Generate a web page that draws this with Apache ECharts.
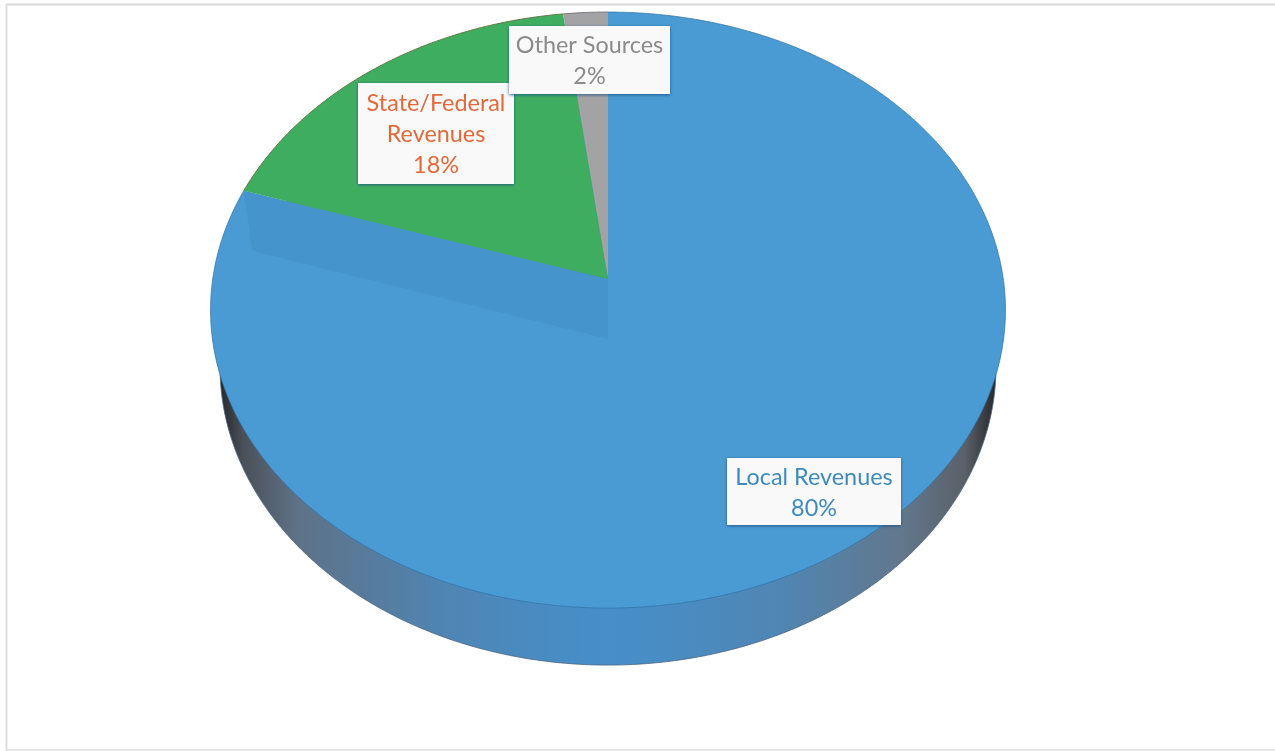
<!DOCTYPE html>
<html>
<head>
<meta charset="utf-8">
<style>html,body{margin:0;padding:0;background:#fff}#chart{width:1275px;height:751px}</style>
<script src="https://cdn.jsdelivr.net/npm/echarts@6/dist/echarts.min.js"></script>
</head>
<body>
<div id="chart"></div>
<script>
// Revenue sources, clockwise from twelve o'clock
const categories = ['Local Revenues', 'State/Federal\nRevenues', 'Other Sources'];
const shares = [80, 18, 2];
const sliceColors = ['#4a9ad3', '#3fad5f', '#a3a3a5'];
const rimColors = ['rgba(50,115,165,0.7)', '#5f7a45', '#7d7d7d'];
const labelColors = ['#3f8abd', '#e06a3c', '#8b8b8b'];
const labelBoxes = [[727, 458, 174, 67], [358, 83, 156, 101], [509, 26, 161, 68]];

// Perspective disc: a unit circle projected so the rim is an ellipse and the hub sits above its centre
const hub = { x: 608, y: 279 };
const spreadX = 395.3, spreadY = 294.8, tilt = 0.1042;
const wall = { drop: 57, narrow: 388 / 397.5, cutDrop: 60 };

function project(theta, lowered) {
  const d = 1 + tilt * Math.cos(theta);
  const k = lowered ? wall.narrow : 1;
  return [
    hub.x + k * spreadX * Math.sin(theta) / d,
    hub.y - spreadY * Math.cos(theta) / d + (lowered ? wall.drop : 0)
  ];
}

function arc(from, to, lowered) {
  const n = Math.max(2, Math.ceil(Math.abs(to - from) * 90));
  const pts = [];
  for (let i = 0; i <= n; i++) pts.push(project(from + (to - from) * i / n, lowered));
  return pts;
}

// Angular extent of each slice, taken from its share
const total = shares.reduce((a, b) => a + b, 0);
let running = 0;
const spans = shares.map(v => {
  const a = running / total * Math.PI * 2;
  running += v;
  return [a, running / total * Math.PI * 2];
});

const wallFill = {
  type: 'linear', x: 0, y: 0, x2: 1, y2: 0,
  colorStops: [
    { offset: 0, color: '#26272b' },
    { offset: 0.03, color: '#4a5058' },
    { offset: 0.1, color: '#5f7287' },
    { offset: 0.3, color: '#4e86b5' },
    { offset: 0.5, color: '#468fca' },
    { offset: 0.72, color: '#4f86b4' },
    { offset: 0.88, color: '#62778c' },
    { offset: 0.96, color: '#5a6068' },
    { offset: 1, color: '#26272b' }
  ]
};

function renderWall(params) {
  const s = spans[params.dataIndex];
  const hubLow = [hub.x, hub.y + wall.drop];
  return {
    type: 'polygon',
    shape: { points: [hubLow].concat(arc(s[0], s[1], true)) },
    style: { fill: wallFill, stroke: '#4a6580', lineWidth: 0.8 }
  };
}

function renderTop(params) {
  const i = params.dataIndex;
  const s = spans[i];
  const rim = arc(s[0], s[1], false);
  const children = [{
    type: 'polygon',
    shape: { points: [[hub.x, hub.y]].concat(rim) },
    style: { fill: sliceColors[i] }
  }, {
    type: 'polyline',
    shape: { points: rim },
    style: { fill: 'none', stroke: rimColors[i], lineWidth: 1 }
  }];
  if (i === 0) {
    // Cut face of the largest slice, showing faintly through its top
    const edge = project(s[1], false);
    const low = project(s[1], true);
    children.push({
      type: 'polygon',
      shape: {
        points: [
          [hub.x, hub.y], edge,
          [low[0], edge[1] + wall.cutDrop],
          [hub.x, hub.y + wall.cutDrop]
        ]
      },
      style: { fill: '#4594cc' }
    });
  }
  return { type: 'group', children };
}

function renderLabel(params) {
  const i = params.dataIndex;
  const b = labelBoxes[i];
  const text = categories[i] + '\n' + Math.round(shares[i] / total * 100) + '%';
  return {
    type: 'group',
    children: [{
      type: 'rect',
      shape: { x: b[0], y: b[1], width: b[2], height: b[3] },
      style: {
        fill: '#f9f9f9',
        shadowColor: 'rgba(25,80,130,0.85)', shadowBlur: 3, shadowOffsetX: 0, shadowOffsetY: 1
      }
    }, {
      type: 'text',
      style: {
        x: b[0] + b[2] / 2, y: b[1] + b[3] / 2 + 1,
        text,
        fill: labelColors[i],
        font: '23.4px Lato',
        lineHeight: 31,
        align: 'center',
        verticalAlign: 'middle'
      }
    }]
  };
}

const chart = echarts.init(document.getElementById('chart'));
chart.setOption({
  backgroundColor: '#ffffff',
  animation: false,
  graphic: [
    { type: 'line', shape: { x1: 6, y1: 4.5, x2: 1275, y2: 4.5 }, style: { stroke: '#d8d8d8', lineWidth: 2 } },
    { type: 'line', shape: { x1: 6.5, y1: 4, x2: 6.5, y2: 751 }, style: { stroke: '#dedede', lineWidth: 2 } },
    { type: 'line', shape: { x1: 6, y1: 750, x2: 1275, y2: 750 }, style: { stroke: '#dedede', lineWidth: 1.5 } }
  ],
  series: [
    { type: 'custom', coordinateSystem: 'none', z: 1, silent: true, data: shares, renderItem: renderWall },
    { type: 'custom', coordinateSystem: 'none', z: 2, silent: true, data: shares, renderItem: renderTop },
    { type: 'custom', coordinateSystem: 'none', z: 3, silent: true, data: shares, renderItem: renderLabel }
  ]
});
</script>
</body>
</html>
